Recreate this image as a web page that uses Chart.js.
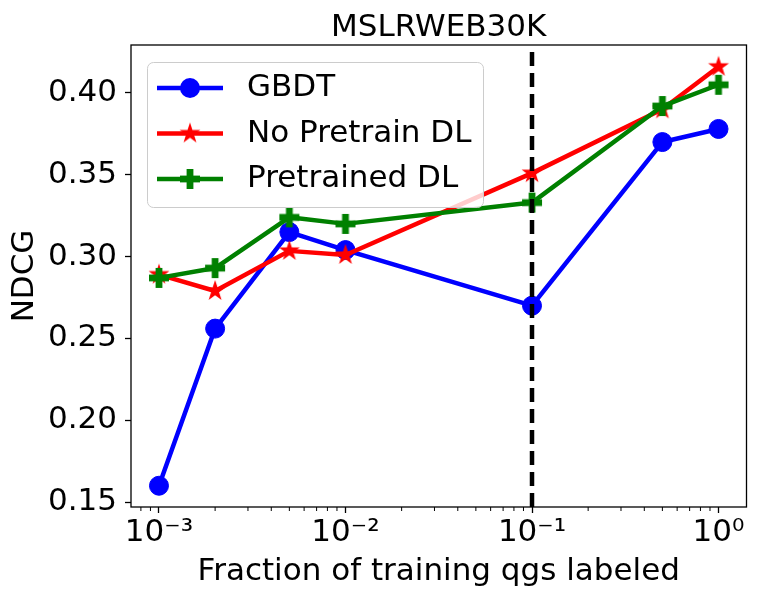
<!DOCTYPE html>
<html>
<head>
<meta charset="utf-8">
<script src="https://cdn.jsdelivr.net/npm/chart.js@4.4.1/dist/chart.umd.min.js"></script>
<style>
  html, body { margin: 0; padding: 0; background: #fff; }
  canvas { display: block; }
</style>
</head>
<body>
<canvas id="myChart" width="761" height="600"></canvas>
<script>
// valores
const fractions = [0.001, 0.002, 0.005, 0.01, 0.1, 0.5, 1];
const gbdt = [0.160, 0.256, 0.315, 0.304, 0.270, 0.370, 0.378];
const noPretrain = [0.289, 0.279, 0.3035, 0.301, 0.351, 0.390, 0.416];
const pretrained = [0.287, 0.293, 0.324, 0.320, 0.333, 0.392, 0.405];
const seriesNames = ['GBDT', 'No Pretrain DL', 'Pretrained DL'];
const cutoff = 0.1;

const xMajorTicks = [0.001, 0.01, 0.1, 1];
const xTickLabels = ['10⁻³', '10⁻²', '10⁻¹', '10⁰'];
const yTicks = [0.15, 0.20, 0.25, 0.30, 0.35, 0.40];
const yTickLabels = ['0.15', '0.20', '0.25', '0.30', '0.35', '0.40'];

const xMin = Math.pow(10, -3.15);
const xMax = Math.pow(10, 0.15);
const yMin = 0.147;
const yMax = 0.4293;

// minor ticks 2..9 x 10^e
const xMinorTicks = [];
for (let e = -4; e <= 0; e++) {
    for (let m = 2; m <= 9; m++) {
        const v = m * Math.pow(10, e);
        if (v > xMin && v < xMax) xMinorTicks.push(v);
    }
}

const FONT = 'DejaVu Sans';
const FSIZE = 31;

// marcadores rellenos (estrella y cruz) como en matplotlib
const makeStar = (color) => {
    const c = document.createElement('canvas');
    c.width = 24; c.height = 24;
    const g = c.getContext('2d');
    const R = 11, r = R * 0.382;
    g.beginPath();
    for (let k = 0; k < 10; k++) {
        const rad = k % 2 === 0 ? R : r;
        const ang = -Math.PI / 2 + k * Math.PI / 5;
        const px = 12 + rad * Math.cos(ang);
        const py = 12 + rad * Math.sin(ang);
        if (k === 0) g.moveTo(px, py); else g.lineTo(px, py);
    }
    g.closePath();
    g.fillStyle = color;
    g.fill();
    return c;
};

const makePlus = (color) => {
    const c = document.createElement('canvas');
    c.width = 22; c.height = 22;
    const g = c.getContext('2d');
    const h = 10, a = 3.4;
    g.fillStyle = color;
    g.fillRect(11 - h, 11 - a, 2 * h, 2 * a);
    g.fillRect(11 - a, 11 - h, 2 * a, 2 * h);
    return c;
};

const starRed = makeStar('#ff0000');
const plusGreen = makePlus('#008000');

const toPoints = (values) => fractions.map((x, i) => ({ x: x, y: values[i] }));

const extras = {
    id: 'extras',
    afterDatasetsDraw(chart) {
        const { ctx, chartArea: a, scales: { x } } = chart;
        ctx.save();

        // minor ticks
        ctx.strokeStyle = '#000';
        ctx.lineWidth = 1;
        xMinorTicks.forEach(v => {
            const px = x.getPixelForValue(v);
            ctx.beginPath();
            ctx.moveTo(px, a.bottom);
            ctx.lineTo(px, a.bottom + 4);
            ctx.stroke();
        });

        // marco
        ctx.lineWidth = 1.3;
        ctx.strokeRect(a.left, a.top, a.right - a.left, a.bottom - a.top);

        // titulo
        ctx.fillStyle = '#000';
        ctx.font = FSIZE + 'px "' + FONT + '"';
        ctx.textAlign = 'center';
        ctx.textBaseline = 'alphabetic';
        ctx.fillText('MSLRWEB30K', (a.left + a.right) / 2, 36);

        // leyenda
        const lx = 147.5, ly = 62.5, lw = 336, lh = 145, rr = 6;
        ctx.beginPath();
        ctx.moveTo(lx + rr, ly);
        ctx.arcTo(lx + lw, ly, lx + lw, ly + lh, rr);
        ctx.arcTo(lx + lw, ly + lh, lx, ly + lh, rr);
        ctx.arcTo(lx, ly + lh, lx, ly, rr);
        ctx.arcTo(lx, ly, lx + lw, ly, rr);
        ctx.closePath();
        ctx.fillStyle = 'rgba(255,255,255,0.8)';
        ctx.fill();
        ctx.strokeStyle = '#cccccc';
        ctx.lineWidth = 1;
        ctx.stroke();

        chart.data.datasets.slice(0, 3).forEach((ds, i) => {
            const yy = 88 + i * 45.5;
            ctx.strokeStyle = ds.borderColor;
            ctx.lineWidth = 4.5;
            ctx.beginPath();
            ctx.moveTo(157, yy);
            ctx.lineTo(223, yy);
            ctx.stroke();
            if (ds.pointStyle === 'circle') {
                ctx.fillStyle = ds.borderColor;
                ctx.beginPath();
                ctx.arc(190, yy, 10, 0, Math.PI * 2);
                ctx.fill();
            } else {
                const img = ds.pointStyle;
                ctx.drawImage(img, 190 - img.width / 2, yy - img.height / 2);
            }
            ctx.fillStyle = '#000';
            ctx.textAlign = 'left';
            ctx.textBaseline = 'middle';
            ctx.fillText(ds.label, 247, yy);
        });

        ctx.restore();
    }
};

const ctx = document.getElementById('myChart');

new Chart(ctx, {
    type: 'line',
    data: {
        datasets: [
            {
                label: seriesNames[0],
                data: toPoints(gbdt),
                borderColor: '#0000ff',
                backgroundColor: '#0000ff',
                borderWidth: 4.5,
                borderJoinStyle: 'round',
                pointStyle: 'circle',
                pointRadius: 9.5,
                pointBorderWidth: 1,
                order: 3
            },
            {
                label: seriesNames[1],
                data: toPoints(noPretrain),
                borderColor: '#ff0000',
                backgroundColor: '#ff0000',
                borderWidth: 4.5,
                borderJoinStyle: 'round',
                pointStyle: starRed,
                pointRadius: 10,
                order: 2
            },
            {
                label: seriesNames[2],
                data: toPoints(pretrained),
                borderColor: '#008000',
                backgroundColor: '#008000',
                borderWidth: 4.5,
                borderJoinStyle: 'round',
                pointStyle: plusGreen,
                pointRadius: 10,
                order: 1
            },
            {
                label: 'cutoff',
                data: [{ x: cutoff, y: yMin }, { x: cutoff, y: yMax }],
                borderColor: '#000',
                borderWidth: 4.5,
                borderDash: [14, 7],
                pointRadius: 0,
                order: 0
            }
        ]
    },
    options: {
        responsive: false,
        animation: false,
        devicePixelRatio: 1,
        layout: { padding: { top: 45, right: 12, left: 0, bottom: 0 } },
        plugins: {
            legend: { display: false },
            tooltip: { enabled: false },
            title: { display: false }
        },
        scales: {
            x: {
                type: 'logarithmic',
                min: xMin,
                max: xMax,
                afterBuildTicks: (scale) => {
                    scale.ticks = xMajorTicks.map(v => ({ value: v, major: true }));
                },
                afterFit: (scale) => { scale.height = 93; },
                border: { display: false },
                grid: {
                    drawOnChartArea: false,
                    drawTicks: true,
                    tickLength: 6,
                    tickWidth: 1.3,
                    tickColor: '#000'
                },
                ticks: {
                    autoSkip: false,
                    maxRotation: 0,
                    padding: 4,
                    color: '#000',
                    font: { family: FONT, size: FSIZE, lineHeight: 1 },
                    callback: (value, index) => xTickLabels[index]
                },
                title: {
                    display: true,
                    text: 'Fraction of training qgs labeled',
                    color: '#000',
                    font: { family: FONT, size: FSIZE, lineHeight: 1 },
                    padding: { top: 0, bottom: 13 }
                }
            },
            y: {
                min: yMin,
                max: yMax,
                afterBuildTicks: (scale) => {
                    scale.ticks = yTicks.map(v => ({ value: v }));
                },
                afterFit: (scale) => { scale.width = 131; },
                border: { display: false },
                grid: {
                    drawOnChartArea: false,
                    drawTicks: true,
                    tickLength: 6,
                    tickWidth: 1.3,
                    tickColor: '#000'
                },
                ticks: {
                    autoSkip: false,
                    padding: 8,
                    color: '#000',
                    font: { family: FONT, size: FSIZE, lineHeight: 1 },
                    callback: (value, index) => yTickLabels[index]
                },
                title: {
                    display: true,
                    text: 'NDCG',
                    color: '#000',
                    font: { family: FONT, size: FSIZE, lineHeight: 1 },
                    padding: { top: 9, bottom: 0 }
                }
            }
        }
    },
    plugins: [extras]
});
</script>
</body>
</html>
